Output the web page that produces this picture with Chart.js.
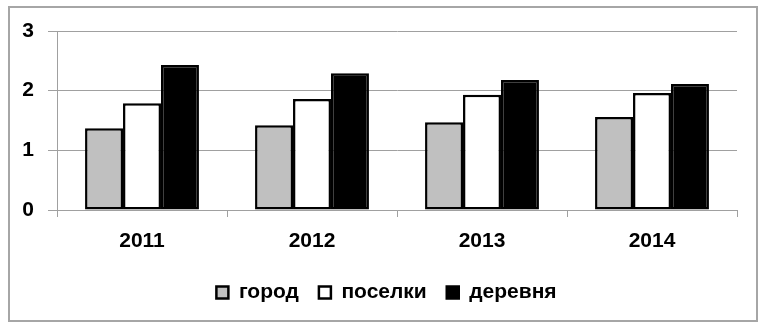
<!DOCTYPE html>
<html>
<head>
<meta charset="utf-8">
<script src="https://cdn.jsdelivr.net/npm/chart.js@4/dist/chart.umd.min.js"></script>
<style>
  html, body { margin: 0; padding: 0; background: #fff; }
  #wrap { position: relative; width: 765px; height: 328px; }
  #frame {
    position: absolute; left: 8px; top: 6px; width: 746px; height: 312px;
    border: 2px solid #a6a6a6; pointer-events: none;
  }
  #chart { position: absolute; left: 0; top: 0; }
</style>
</head>
<body>
<div id="wrap">
  <canvas id="chart" width="765" height="328"></canvas>
  <div id="frame"></div>
</div>
<script>
/* DATA */
const years = ["2011", "2012", "2013", "2014"];
const gorod = [1.37, 1.42, 1.47, 1.56];
const poselki = [1.79, 1.86, 1.93, 1.96];
const derevnya = [2.43, 2.29, 2.18, 2.11];
const yTicks = [0, 1, 2, 3];

const GRID = "#a0a0a0";
const TICK_FONT = { family: "'Liberation Sans', Arial, sans-serif", size: 21, weight: "bold" };
const LEGEND_FONT = { family: "'Liberation Sans', Arial, sans-serif", size: 21, weight: "bold" };

function barSet(label, data, fill) {
    return {
        label,
        data,
        backgroundColor: fill,
        borderColor: "#000",
        borderWidth: 2.5,
        borderSkipped: false,
        barPercentage: 1.0,
        categoryPercentage: 0.67
    };
}

/* legend sits a bit right of centre in the original */
const legendShift = {
    id: "legendShift",
    afterLayout(c) {
        c.legend.left += 18;
        c.legend.right += 18;
    }
};

new Chart(document.getElementById("chart"), {
    type: "bar",
    data: {
        labels: years,
        datasets: [
            barSet("город", gorod, "#c0c0c0"),
            barSet("поселки", poselki, "#ffffff"),
            barSet("деревня", derevnya, "#000000")
        ]
    },
    plugins: [legendShift],
    options: {
        responsive: false,
        animation: false,
        layout: { padding: { left: 0, right: 28, top: 31, bottom: 15 } },
        plugins: {
            tooltip: { enabled: false },
            legend: {
                position: "bottom",
                labels: {
                    color: "#000",
                    font: LEGEND_FONT,
                    boxWidth: 12,
                    boxHeight: 12,
                    padding: 20
                }
            }
        },
        scales: {
            x: {
                offset: true,
                grid: { display: true, drawOnChartArea: false, tickLength: 7, color: GRID, offset: true },
                border: { display: true, color: GRID, width: 1 },
                ticks: { color: "#000", font: TICK_FONT, padding: 12 },
                afterFit: s => { s.height = 52; }
            },
            y: {
                min: 0,
                max: 3,
                afterBuildTicks: s => { s.ticks = yTicks.map(v => ({ value: v })); },
                grid: { color: GRID, tickLength: 9, lineWidth: 1 },
                border: { display: true, color: GRID, width: 1 },
                ticks: { color: "#000", font: TICK_FONT, padding: 14 },
                afterFit: s => { s.width = 57; }
            }
        }
    }
});
</script>
</body>
</html>
